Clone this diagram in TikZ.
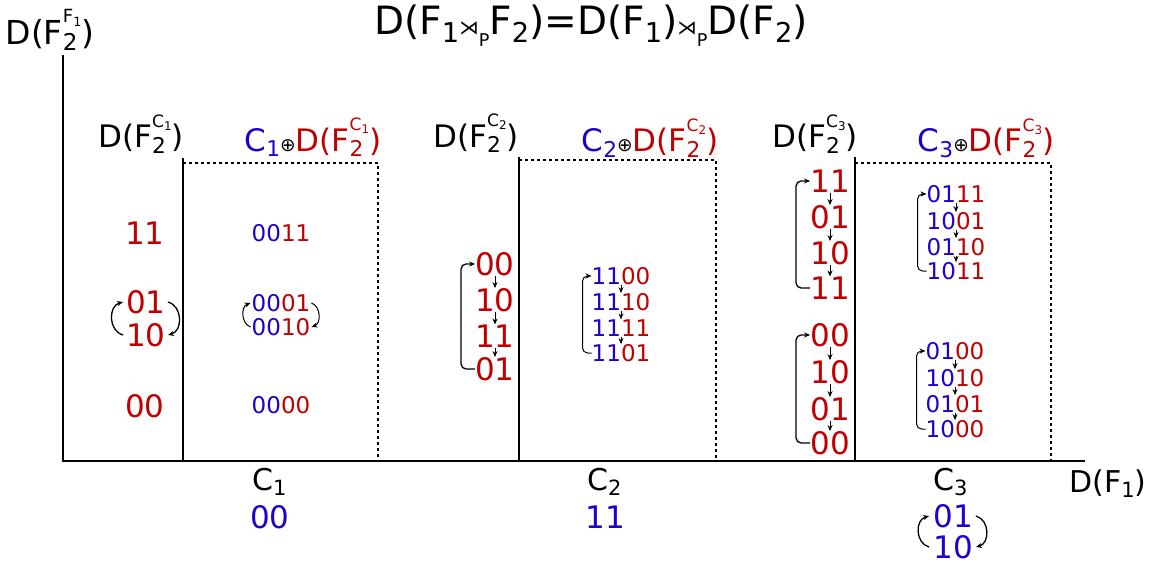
\documentclass[tikz,border=0pt]{standalone}
\usepackage{fontspec}
\setmainfont{DejaVu Sans}
\usepackage{graphicx}
\usetikzlibrary{arrows.meta}
\definecolor{bitred}{RGB}{192,0,0}
\definecolor{bitblue}{RGB}{34,0,204}
\newcommand{\lo}[1]{\raisebox{-0.18em}{\scalebox{0.7}{#1}}}
\newcommand{\hi}[1]{\raisebox{0.67em}{\scalebox{0.55}{#1}}}
\newcommand{\FF}[2]{F\rlap{\lo{#1}}\hi{#2}}
\newcommand{\bits}[2]{\textcolor{bitblue}{#1}\textcolor{bitred}{#2}}
\newcommand{\xorhead}[1]{\textcolor{bitblue}{C\lo{#1}}\scalebox{0.6}{⊕}\textcolor{bitred}{D(\FF{2}{C\lo{#1}})}}
\newcommand{\semi}{\scalebox{0.5}{⋊}\raisebox{-0.3em}{\scalebox{0.45}{P}}}
\begin{document}
\begin{tikzpicture}[x=1pt,y=-1pt,>=Stealth,every node/.style={inner sep=0pt},
  big/.style={font=\fontsize{31}{31}\selectfont,text=bitred},
  small/.style={font=\fontsize{23}{23}\selectfont},
  lab/.style={font=\fontsize{31}{31}\selectfont,anchor=base},
  hop/.style={->,line width=1pt,shorten <=0pt,shorten >=0pt,>={Stealth[length=6pt,width=5pt]}},
  wrap/.style={->,line width=1.3pt,rounded corners=5pt,>={Stealth[length=6pt,width=5pt]}},
  flip/.style={->,line width=1.3pt,>={Stealth[length=6pt,width=5pt]}},
  axis/.style={line width=2pt},
  bound/.style={line width=1.5pt,dash pattern=on 3pt off 3pt}]
\useasboundingbox (0,0) rectangle (1151,567);

\node[lab,font=\fontsize{39}{39}\selectfont] (title) at (591,35) {D(F\lo{1}\semi F\lo{2})=D(F\lo{1})\semi D(F\lo{2})};
\node[lab,font=\fontsize{33}{33}\selectfont] (ylab) at (50,45) {D(\FF{2}{F\lo{1}})};
\node[lab,anchor=base west,font=\fontsize{30}{30}\selectfont] (xlab) at (1069,492) {D(F\lo{1})};
\draw[axis] (63,55) -- (63,461) -- (1085,461);

\draw[axis] (183,158) -- (183,461);
\draw[bound] (183,163) -- (378,163) -- (378,461);
\node[lab] (h1) at (141,148) {D(\FF{2}{C\lo{1}})};
\node[lab] (k1) at (313,151) {\xorhead{1}};
\node[big] (a11) at (145,233) {11};
\node[big] (a01) at (146,302) {01};
\node[big] (a10) at (146,335) {10};
\node[big] (a00) at (145,406) {00};
\draw[flip] ([xshift=-3pt]a10.west) to[bend left=75,looseness=1.2] ([xshift=-3pt]a01.west);
\draw[flip] ([xshift=2pt]a01.east) to[bend left=75,looseness=1.2] ([xshift=2pt]a10.east);
\node[small] (b0011) at (281,233) {\bits{00}{11}};
\node[small] (b0001) at (281,303) {\bits{00}{01}};
\node[small] (b0010) at (281,327) {\bits{00}{10}};
\node[small] (b0000) at (281,405) {\bits{00}{00}};
\draw[flip,line width=1pt] ([xshift=-1pt]b0010.west) to[bend left=70,looseness=1.1] ([xshift=-1pt]b0001.west);
\draw[flip,line width=1pt] ([xshift=1pt]b0001.east) to[bend left=70,looseness=1.1] ([xshift=1pt]b0010.east);

\draw[axis] (519,157) -- (519,461);
\draw[bound] (519,160) -- (716,160) -- (716,461);
\node[lab] (h2) at (476,147) {D(\FF{2}{C\lo{2}})};
\node[lab] (k2) at (650,152) {\xorhead{2}};
\node[big] (c00) at (495,264) {00};
\node[big] (c10) at (495,300) {10};
\node[big] (c11) at (495,336) {11};
\node[big] (c01) at (495,369) {01};
\draw[hop] (c00) -- (c10);
\draw[hop] (c10) -- (c11);
\draw[hop] (c11) -- (c01);
\draw[wrap] (c01.west) -- ++(-14,0) |- (c00.west);
\node[small] (d1100) at (621,276) {\bits{11}{00}};
\node[small] (d1110) at (621,302) {\bits{11}{10}};
\node[small] (d1111) at (621,328) {\bits{11}{11}};
\node[small] (d1101) at (621,353) {\bits{11}{01}};
\draw[hop] (d1100) -- (d1110);
\draw[hop] (d1110) -- (d1111);
\draw[hop] (d1111) -- (d1101);
\draw[wrap,line width=1pt] (d1101.west) -- ++(-9,0) |- (d1100.west);

\draw[axis] (855,157) -- (855,461);
\draw[bound] (855,163) -- (1051,163) -- (1051,461);
\node[lab] (h3) at (815,148) {D(\FF{2}{C\lo{3}})};
\node[lab] (k3) at (986,152) {\xorhead{3}};
\node[big] (e11) at (830,181) {11};
\node[big] (e01) at (830,217) {01};
\node[big] (e10) at (830,253) {10};
\node[big] (e11b) at (830,288) {11};
\draw[hop] (e11) -- (e01);
\draw[hop] (e01) -- (e10);
\draw[hop] (e10) -- (e11b);
\draw[wrap] (e11b.west) -- ++(-14,0) |- (e11.west);
\node[small] (f0111) at (956,194) {\bits{01}{11}};
\node[small] (f1001) at (956,221) {\bits{10}{01}};
\node[small] (f0110) at (956,247) {\bits{01}{10}};
\node[small] (f1011) at (956,271) {\bits{10}{11}};
\draw[hop] (f0111) -- (f1001);
\draw[hop] (f1001) -- (f0110);
\draw[hop] (f0110) -- (f1011);
\draw[wrap,line width=1pt] (f1011.west) -- ++(-9,0) |- (f0111.west);
\node[big] (g00) at (830,335) {00};
\node[big] (g10) at (830,372) {10};
\node[big] (g01) at (830,409) {01};
\node[big] (g00b) at (830,443) {00};
\draw[hop] (g00) -- (g10);
\draw[hop] (g10) -- (g01);
\draw[hop] (g01) -- (g00b);
\draw[wrap] (g00b.west) -- ++(-14,0) |- (g00.west);
\node[small] (h0100) at (955,351) {\bits{01}{00}};
\node[small] (h1010) at (955,378) {\bits{10}{10}};
\node[small] (h0101) at (955,404) {\bits{01}{01}};
\node[small] (h1000) at (955,429) {\bits{10}{00}};
\draw[hop] (h0100) -- (h1010);
\draw[hop] (h1010) -- (h0101);
\draw[hop] (h0101) -- (h1000);
\draw[wrap,line width=1pt] (h1000.west) -- ++(-9,0) |- (h0100.west);

\node[lab,anchor=base west,font=\fontsize{30}{30}\selectfont] (c1) at (252,490) {C\lo{1}};
\node[big,text=bitblue] (v1) at (270,517) {00};
\node[lab,anchor=base west,font=\fontsize{30}{30}\selectfont] (c2) at (587,490) {C\lo{2}};
\node[big,text=bitblue] (v2) at (605,517) {11};
\node[lab,anchor=base west,font=\fontsize{30}{30}\selectfont] (c3) at (933,490) {C\lo{3}};
\node[big,text=bitblue] (v3a) at (953,516) {01};
\node[big,text=bitblue] (v3b) at (953,547) {10};
\draw[flip] ([xshift=-4pt]v3b.west) to[bend left=75,looseness=1.2] ([xshift=-4pt]v3a.west);
\draw[flip] ([xshift=3pt]v3a.east) to[bend left=75,looseness=1.2] ([xshift=3pt]v3b.east);
\end{tikzpicture}
\end{document}
